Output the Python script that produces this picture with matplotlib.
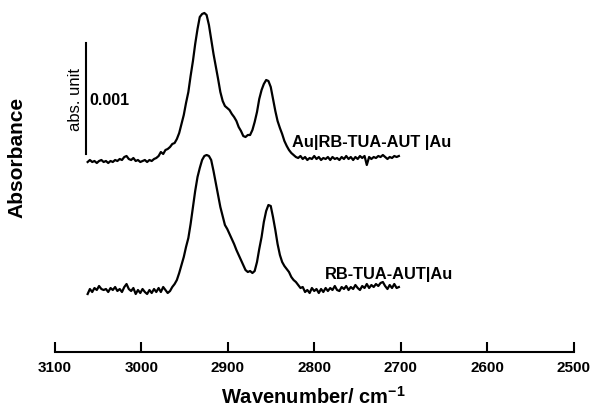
import matplotlib
matplotlib.use("Agg")
import matplotlib.pyplot as plt

plt.rcParams['font.family'] = ['Liberation Sans', 'DejaVu Sans']
plt.rcParams['mathtext.fontset'] = 'custom'
plt.rcParams['mathtext.rm'] = 'Liberation Sans:bold'
plt.rcParams['mathtext.bf'] = 'Liberation Sans:bold'
plt.rcParams['mathtext.default'] = 'bf'

# ---- data (wavenumber in cm^-1, absorbance change in units of 1e-3) ----
wavenumber = [
    3062.0, 3059.4, 3056.7, 3054.1, 3051.4, 3048.8, 3046.1, 3043.5, 3040.8, 3038.2,
    3035.5, 3032.9, 3030.2, 3027.6, 3024.9, 3022.3, 3019.6, 3017.0, 3014.4, 3011.7,
    3009.1, 3006.4, 3003.8, 3001.1, 2998.5, 2995.8, 2993.2, 2990.5, 2987.9, 2985.2,
    2982.6, 2979.9, 2977.3, 2974.6, 2972.0, 2969.4, 2966.7, 2964.1, 2961.4, 2958.8,
    2956.1, 2953.5, 2950.8, 2948.2, 2945.5, 2942.9, 2940.2, 2937.6, 2934.9, 2932.3,
    2929.6, 2927.0, 2924.4, 2921.7, 2919.1, 2916.4, 2913.8, 2911.1, 2908.5, 2905.8,
    2903.2, 2900.5, 2897.9, 2895.2, 2892.6, 2889.9, 2887.3, 2884.6, 2882.0, 2879.4,
    2876.7, 2874.1, 2871.4, 2868.8, 2866.1, 2863.5, 2860.8, 2858.2, 2855.5, 2852.9,
    2850.2, 2847.6, 2844.9, 2842.3, 2839.6, 2837.0, 2834.4, 2831.7, 2829.1, 2826.4,
    2823.8, 2821.1, 2818.5, 2815.8, 2813.2, 2810.5, 2807.9, 2805.2, 2802.6, 2799.9,
    2797.3, 2794.6, 2792.0, 2789.4, 2786.7, 2784.1, 2781.4, 2778.8, 2776.1, 2773.5,
    2770.8, 2768.2, 2765.5, 2762.9, 2760.2, 2757.6, 2754.9, 2752.3, 2749.6, 2747.0,
    2744.4, 2741.7, 2739.1, 2736.4, 2733.8, 2731.1, 2728.5, 2725.8, 2723.2, 2720.5,
    2717.9, 2715.2, 2712.6, 2709.9, 2707.3, 2704.6, 2702.0,
]

# Au|RB-TUA-AUT |Au
sandwich_mabs = [
    0.000, 0.018, 0.000, 0.009, -0.009, 0.009, 0.018, 0.000, 0.009, -0.009,
    0.009, 0.000, 0.018, 0.009, 0.027, 0.018, 0.045, 0.054, 0.027, 0.018,
    0.036, 0.009, 0.018, 0.000, 0.009, 0.018, 0.000, 0.018, 0.009, 0.027,
    0.036, 0.054, 0.090, 0.072, 0.108, 0.117, 0.135, 0.162, 0.171, 0.207,
    0.261, 0.342, 0.423, 0.531, 0.630, 0.774, 0.909, 1.062, 1.197, 1.305,
    1.332, 1.341, 1.323, 1.233, 1.107, 0.972, 0.864, 0.747, 0.630, 0.549,
    0.504, 0.486, 0.468, 0.432, 0.405, 0.369, 0.315, 0.279, 0.234, 0.225,
    0.243, 0.243, 0.288, 0.360, 0.450, 0.567, 0.648, 0.702, 0.738, 0.729,
    0.675, 0.567, 0.459, 0.369, 0.306, 0.252, 0.189, 0.144, 0.108, 0.081,
    0.063, 0.045, 0.036, 0.054, 0.027, 0.045, 0.018, 0.036, 0.027, 0.054,
    0.027, 0.045, 0.018, 0.036, 0.027, 0.045, 0.018, 0.045, 0.027, 0.036,
    0.018, 0.045, 0.027, 0.054, 0.027, 0.045, 0.018, 0.045, 0.027, 0.054,
    0.036, 0.054, -0.027, 0.045, 0.027, 0.045, 0.036, 0.054, 0.045, 0.063,
    0.045, 0.027, 0.045, 0.036, 0.054, 0.045, 0.054,
]

# RB-TUA-AUT|Au
monolayer_mabs = [
    -0.018, 0.027, 0.000, 0.036, 0.018, 0.054, 0.027, 0.018, 0.027, 0.000,
    0.036, 0.018, 0.045, 0.009, 0.027, 0.000, 0.045, 0.072, 0.027, 0.009,
    0.036, -0.018, 0.018, -0.009, 0.027, 0.000, -0.018, 0.018, -0.009, 0.027,
    0.000, 0.036, 0.000, 0.045, 0.018, -0.009, 0.009, 0.045, 0.072, 0.108,
    0.171, 0.243, 0.315, 0.405, 0.486, 0.612, 0.765, 0.909, 1.035, 1.116,
    1.188, 1.224, 1.233, 1.224, 1.188, 1.089, 0.981, 0.864, 0.765, 0.684,
    0.603, 0.567, 0.522, 0.477, 0.432, 0.378, 0.333, 0.288, 0.243, 0.198,
    0.180, 0.189, 0.171, 0.189, 0.270, 0.387, 0.495, 0.630, 0.729, 0.783,
    0.774, 0.675, 0.558, 0.432, 0.333, 0.270, 0.234, 0.207, 0.180, 0.135,
    0.108, 0.090, 0.063, 0.036, 0.045, 0.000, 0.018, -0.009, 0.036, 0.009,
    0.027, -0.009, 0.027, 0.000, 0.036, 0.009, 0.036, 0.018, 0.054, 0.018,
    0.009, 0.045, 0.027, 0.054, 0.018, 0.045, 0.027, 0.063, 0.036, 0.018,
    0.054, 0.036, 0.072, 0.036, 0.063, 0.045, 0.072, 0.054, 0.081, 0.090,
    0.054, 0.027, 0.063, 0.036, 0.072, 0.036, 0.045,
]

labels = ["Au|RB-TUA-AUT |Au", "RB-TUA-AUT|Au"]
x_ticks = [3100, 3000, 2900, 2800, 2700, 2600, 2500]
scale_bar_mabs = 1.0          # 0.001 absorbance units
scale_bar_label = "0.001"

# ---- layout ----
top_offset = 1.710
bottom_offset = 0.540

fig = plt.figure(figsize=(5.91, 4.10), dpi=100)
ax = fig.add_axes([0.0927, 0.139, 0.8777, 0.8537])

ax.plot(wavenumber, [v + top_offset for v in sandwich_mabs], color='black', lw=1.6)
ax.plot(wavenumber, [v + bottom_offset for v in monolayer_mabs], color='black', lw=1.6)

ax.set_xlim(3100, 2500)
ax.set_ylim(0, 3.15)

for s in ['top', 'left', 'right']:
    ax.spines[s].set_visible(False)
ax.spines['bottom'].set_linewidth(1.5)
ax.set_yticks([])
ax.set_xticks(x_ticks)
ax.set_xticklabels([str(t) for t in x_ticks], fontsize=11, fontweight='bold')
ax.tick_params(axis='x', direction='in', length=7, width=1.5, pad=6)

# scale bar
bar_x = 3064
bar_y0 = 1.782
ax.plot([bar_x, bar_x], [bar_y0, bar_y0 + scale_bar_mabs], color='black', lw=1.5)
ax.text(3076.5, bar_y0 + 0.5 * scale_bar_mabs, "abs. unit", rotation=90,
        ha='center', va='center', fontsize=12)
ax.text(3059.5, bar_y0 + 0.49 * scale_bar_mabs, scale_bar_label,
        ha='left', va='center', fontsize=11.5, fontweight='bold')

# annotations
ax.text(2825.5, 1.850, labels[0], ha='left', va='baseline', fontsize=11.8, fontweight='bold')
ax.text(2787.5, 0.670, labels[1], ha='left', va='baseline', fontsize=11.8, fontweight='bold')

# axis titles
fig.text(0.029, 0.617, "Absorbance", rotation=90, ha='center', va='center',
         fontsize=15, fontweight='bold')
fig.text(0.530, 0.016, r"Wavenumber/ cm$^{-1}$", ha='center', va='baseline',
         fontsize=14.5, fontweight='bold')

fig.savefig("out.png", dpi=100)
